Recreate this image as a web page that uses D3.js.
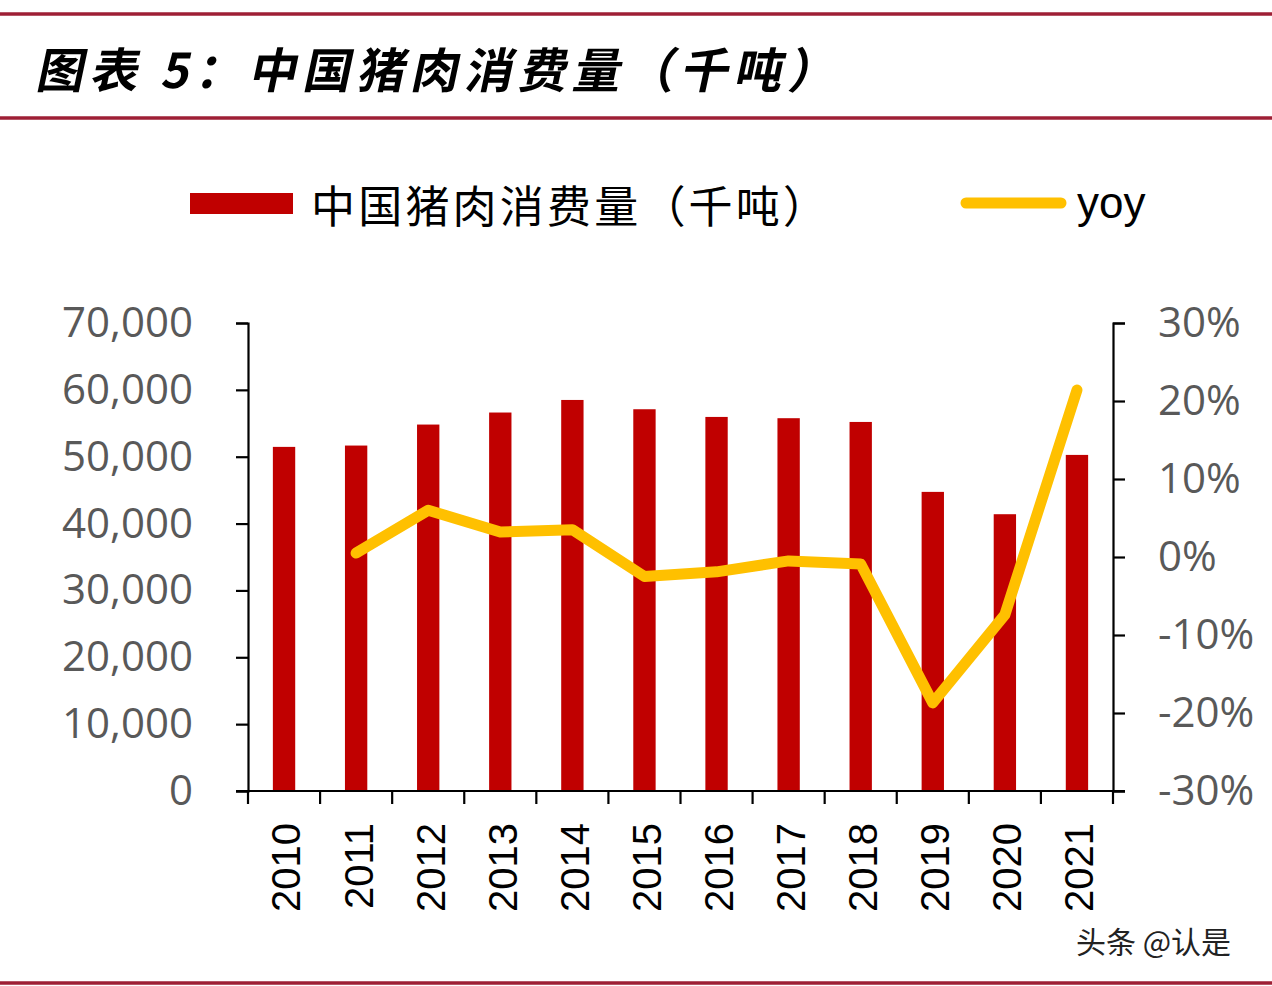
<!DOCTYPE html>
<html>
<head>
<meta charset="utf-8">
<script src="https://cdn.jsdelivr.net/npm/d3@7"></script>
<style>
  html, body { margin: 0; padding: 0; background: #fff; }
  svg { display: block; }
</style>
</head>
<body>
<svg id="chart" width="1272" height="986"></svg>
<script>
// ---- data ----
const years = ['2010','2011','2012','2013','2014','2015','2016','2017','2018','2019','2020','2021'];
const consumption = [51470, 51670, 54810, 56610, 58490, 57100, 55950, 55760, 55200, 44740, 41400, 50270];
const yoy = [null, 0.5, 6.0, 3.2, 3.5, -2.5, -1.9, -0.5, -0.9, -18.7, -7.4, 21.4];
const leftTicks = [0, 10000, 20000, 30000, 40000, 50000, 60000, 70000];
const rightTicks = [-30, -20, -10, 0, 10, 20, 30];
const titleText = '图表 5：中国猪肉消费量（千吨）';
const legendBar = '中国猪肉消费量（千吨）';
const legendLine = 'yoy';
const watermark = '头条 @认是';

// ---- layout ----
const svg = d3.select('#chart');
const L = 248, R = 1113, T = 323, B = 791;
const BAR = '#C00000', LINE = '#FFC000', FRAME = '#9E1F35', LABEL = '#595959';

// frame lines
[14, 118, 983].forEach(yy => {
  svg.append('line').attr('x1', 0).attr('x2', 1272).attr('y1', yy).attr('y2', yy)
    .attr('stroke', FRAME).attr('stroke-width', 3.5);
});

// title
svg.append('text')
  .attr('transform', 'translate(35,88) skewX(-12)')
  .attr('font-family', '"Noto Sans CJK SC", sans-serif')
  .attr('font-weight', 'bold')
  .attr('font-size', 48)
  .attr('fill', '#000')
  .attr('textLength', 800)
  .attr('lengthAdjust', 'spacing')
  .text(titleText);

// scales
const x = d3.scaleBand().domain(years).range([L, R]).paddingInner(0.69).paddingOuter(0.345);
const y = d3.scaleLinear().domain([0, 70000]).range([B, T]);
const y2 = d3.scaleLinear().domain([-30, 30]).range([B, T]);

// bars
svg.append('g').selectAll('rect').data(years).join('rect')
  .attr('x', d => x(d))
  .attr('y', (d, i) => y(consumption[i]))
  .attr('width', x.bandwidth())
  .attr('height', (d, i) => B - y(consumption[i]))
  .attr('fill', BAR);

// left axis
const axL = svg.append('g').attr('transform', `translate(${L},0)`)
  .call(d3.axisLeft(y).tickValues(leftTicks).tickSize(12).tickPadding(43)
    .tickFormat(d3.format(',')));
axL.select('.domain').attr('stroke', '#000').attr('stroke-width', 2.2);
axL.selectAll('.tick line').attr('stroke', '#000').attr('stroke-width', 2.2);
axL.selectAll('.tick text').attr('font-family', '"Open Sans", sans-serif')
  .attr('font-size', 42).attr('fill', LABEL);

// right axis
const axR = svg.append('g').attr('transform', `translate(${R},0)`)
  .call(d3.axisRight(y2).tickValues(rightTicks).tickSize(12).tickPadding(33)
    .tickFormat(d => d + '%'));
axR.select('.domain').attr('stroke', '#000').attr('stroke-width', 2.2);
axR.selectAll('.tick line').attr('stroke', '#000').attr('stroke-width', 2.2);
axR.selectAll('.tick text').attr('font-family', '"Open Sans", sans-serif')
  .attr('font-size', 42).attr('fill', LABEL);

// bottom axis line
svg.append('line').attr('x1', L - 12).attr('x2', R + 12).attr('y1', B).attr('y2', B)
  .attr('stroke', '#000').attr('stroke-width', 2.2);
// category boundary ticks
const step = x.step();
const bounds = years.map(d => x(d) + x.bandwidth() / 2 - step / 2).concat([x(years[years.length - 1]) + x.bandwidth() / 2 + step / 2]);
svg.append('g').selectAll('line').data(bounds).join('line')
  .attr('x1', d => d).attr('x2', d => d).attr('y1', B).attr('y2', B + 13)
  .attr('stroke', '#000').attr('stroke-width', 2.2);
// year labels
svg.append('g').selectAll('text').data(years).join('text')
  .attr('transform', d => `translate(${x(d) + x.bandwidth() / 2 + 2},823) rotate(-90)`)
  .attr('text-anchor', 'end')
  .attr('dy', '0.36em')
  .attr('font-family', '"Liberation Sans", Arial, sans-serif')
  .attr('font-size', 40)
  .attr('fill', '#000')
  .text(d => d);

// yoy line
const pts = years.map((d, i) => ({ d, v: yoy[i] })).filter(p => p.v !== null);
svg.append('path').datum(pts)
  .attr('d', d3.line().x(p => x(p.d) + x.bandwidth() / 2).y(p => y2(p.v)))
  .attr('fill', 'none').attr('stroke', LINE).attr('stroke-width', 11)
  .attr('stroke-linejoin', 'round').attr('stroke-linecap', 'round');

// legend
svg.append('rect').attr('x', 190).attr('y', 193).attr('width', 103).attr('height', 21).attr('fill', BAR);
svg.append('text').attr('x', 311).attr('y', 223)
  .attr('font-family', '"Noto Sans CJK SC", sans-serif').attr('font-size', 44).attr('fill', '#000')
  .attr('letter-spacing', 3.2)
  .text(legendBar);
svg.append('line').attr('x1', 966).attr('x2', 1061).attr('y1', 203).attr('y2', 203)
  .attr('stroke', LINE).attr('stroke-width', 11).attr('stroke-linecap', 'round');
svg.append('text').attr('x', 1077).attr('y', 218)
  .attr('font-family', '"Liberation Sans", Arial, sans-serif').attr('font-size', 44).attr('fill', '#000')
  .text(legendLine);

// watermark
svg.append('text').attr('x', 1076).attr('y', 953)
  .attr('font-family', '"Noto Sans CJK SC", sans-serif').attr('font-size', 30).attr('fill', '#222')
  .text(watermark);
</script>
</body>
</html>
